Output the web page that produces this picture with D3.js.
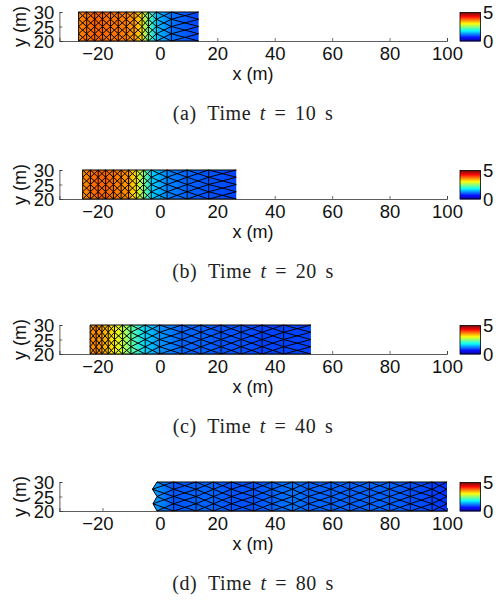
<!DOCTYPE html>
<html>
<head>
<meta charset="utf-8">
<script src="https://cdn.jsdelivr.net/npm/d3@7"></script>
<style>
  html, body { margin: 0; padding: 0; background: #fff; }
  svg { display: block; }
  .tick text, .lab { font-family: "Liberation Sans", sans-serif; fill: #111; }
  .cap { font-family: "Liberation Serif", serif; font-size: 20px; fill: #222; letter-spacing: 0.6px; word-spacing: 3px; }
</style>
</head>
<body>
<svg id="chart" width="496" height="601"></svg>
<script>
// column edges of the mesh (m) and water depth at each edge (m)
var edgesA = [-28.3, -25.5, -22.7, -20, -17.2, -14.5, -11.7, -9, -6.2, -4, -1.2, 4, 13.5];
var depthA = [3.7, 3.8, 3.85, 3.85, 3.8, 3.75, 3.7, 3.6, 3.25, 2.4, 1.6, 1.2, 1.0];
var edgesB = [-26.9, -24.2, -21.5, -18.9, -16.2, -13.5, -10.9, -8.2, -5.7, -3, 2.5, 9.5, 17, 26.6];
var depthB = [3.65, 3.8, 3.9, 3.9, 3.8, 3.7, 3.6, 3.2, 2.5, 1.7, 1.3, 1.1, 1.05, 1.0];
var edgesC = [-24.3, -22.2, -20.2, -18, -15.8, -13, -10.1, -5.1, -0.1, 7.7, 14.3, 21.3, 28.3, 35.6, 43.1, 52.6];
var depthC = [3.6, 3.7, 3.55, 3.4, 3.15, 2.85, 2.4, 1.7, 1.35, 1.15, 1.1, 1.05, 1.05, 1.0, 1.0, 0.95];
var edgesD = [-1, 4.8, 12.6, 18.7, 24.9, 32.6, 39, 46.2, 51.8, 59.6, 66.1, 73, 80, 87.2, 94.8, 100];
var depthD = [1.35, 1.05, 1.15, 1.15, 1.05, 1.05, 1.1, 1.2, 1.1, 1.15, 1.15, 1.15, 1.15, 1.05, 1.0, 0.9];
// jagged wave front of panel d, x at each mesh level (m)
var frontD = [-1, -2.4, -1, -2.6, -1];

var levels = [20, 22.5, 25, 27.5, 30];
var xTicks = [-20, 0, 20, 40, 60, 80, 100];
var yTicks = [20, 25, 30];
var barTicks = [0, 5];
var captions = ["(a)", "(b)", "(c)", "(d)"];
var times = ["10", "20", "40", "80"];

var panels = [
  { top: 12, edges: edgesA, depth: depthA },
  { top: 170, edges: edgesB, depth: depthB },
  { top: 325, edges: edgesC, depth: depthC },
  { top: 482, edges: edgesD, depth: depthD, front: frontD }
];

var svg = d3.select("#chart");
var defs = svg.append("defs");

var x = d3.scaleLinear().domain([-35, 100]).range([59.4, 447]);

// matlab jet, stepped to 64 levels like the original colormap
var jet = d3.scaleLinear()
  .domain([0, 0.125, 0.375, 0.625, 0.875, 1])
  .range(["#00008f", "#0000ff", "#00ffff", "#ffff00", "#ff0000", "#800000"]);
function depthColor(v) {
  return jet(Math.floor(Math.min(v / 5, 0.999) * 64) / 63);
}

function drawPanel(p, idx) {
  var h = 29;
  var y = d3.scaleLinear().domain([20, 30]).range([p.top + h, p.top]);
  var g = svg.append("g");

  var gradId = "grad" + idx;
  var grad = defs.append("linearGradient")
    .attr("id", gradId)
    .attr("gradientUnits", "userSpaceOnUse")
    .attr("x1", x(p.edges[0]))
    .attr("x2", x(p.edges[p.edges.length - 1]))
    .attr("y1", 0).attr("y2", 0);
  var ex = d3.scaleLinear()
    .domain([p.edges[0], p.edges[p.edges.length - 1]]).range([0, 1]);
  p.edges.forEach(function(e, i) {
    grad.append("stop").attr("offset", ex(e)).attr("stop-color", depthColor(p.depth[i]));
  });

  function edgeAt(i, k) {
    return (i == 0 && p.front) ? p.front[k] : p.edges[i];
  }

  var line = d3.line().x(function(d) { return x(d[0]); }).y(function(d) { return y(d[1]); });

  // outline of the wet area
  var outline = levels.map(function(l, k) { return [edgeAt(0, k), l]; });
  outline.push([p.edges[p.edges.length - 1], 30], [p.edges[p.edges.length - 1], 20]);
  g.append("path").attr("d", line(outline) + "Z").attr("fill", "url(#" + gradId + ")");

  // triangle edges: vertical lines, then two zigzags across each column
  var mesh = g.append("g").attr("fill", "none").attr("stroke", "#000")
    .attr("stroke-width", 1).attr("stroke-linejoin", "round");
  p.edges.forEach(function(e, i) {
    if (i < p.edges.length - 1) {
      mesh.append("path").attr("d", line(levels.map(function(l, k) { return [edgeAt(i, k), l]; })));
      mesh.append("path").attr("d", line(levels.map(function(l, k) {
        return [k % 2 ? edgeAt(i + 1, k) : edgeAt(i, k), l];
      })));
      mesh.append("path").attr("d", line(levels.map(function(l, k) {
        return [k % 2 ? edgeAt(i, k) : edgeAt(i + 1, k), l];
      })));
      mesh.append("path").attr("d", line([[edgeAt(i, 0), 20], [p.edges[i + 1], 20]]));
      mesh.append("path").attr("d", line([[edgeAt(i, 4), 30], [p.edges[i + 1], 30]]));
    }
  });

  // axes, ticks point inwards, no box
  var xAxis = d3.axisBottom(x).tickValues(xTicks).tickSize(-3).tickPadding(6)
    .tickFormat(function(d) { return d < 0 ? "\u2212" + Math.abs(d) : d; });
  var gx = svg.append("g").attr("transform", "translate(0," + (p.top + h) + ")").call(xAxis);
  var yAxis = d3.axisLeft(y).tickValues(yTicks).tickSize(-3).tickPadding(5);
  var gy = svg.append("g").attr("transform", "translate(" + x(-35) + ",0)").call(yAxis);
  [gx, gy].forEach(function(a) {
    a.selectAll(".domain").attr("stroke", "#333").attr("stroke-width", 0.8);
    a.selectAll(".tick line").attr("stroke", "#333").attr("stroke-width", 0.7);
    a.selectAll("text").attr("font-size", 18.5);
  });
  gx.selectAll("text").attr("dy", "0.72em")
    .attr("dx", function(d) { return d < 0 ? -5 : 0; }); // the minus sign pushes this label left in the original
  gy.selectAll("text").attr("dy", "0.36em");

  svg.append("text").attr("class", "lab").attr("font-size", 18)
    .attr("x", 253).attr("y", p.top + h + 39).attr("text-anchor", "middle")
    .text("x (m)");
  svg.append("text").attr("class", "lab").attr("font-size", 18)
    .attr("transform", "translate(26," + (p.top + h / 2) + ") rotate(-90)")
    .attr("text-anchor", "middle").text("y (m)");

  // colour bar
  var bar = d3.scaleLinear().domain([0, 5]).range([p.top + h, p.top + 0.5]);
  var barG = svg.append("g");
  d3.range(64).forEach(function(i) {
    barG.append("rect")
      .attr("x", 460).attr("width", 20.5)
      .attr("y", bar((i + 1) * 5 / 64)).attr("height", bar(i * 5 / 64) - bar((i + 1) * 5 / 64) + 0.4)
      .attr("fill", jet(i / 63));
  });
  barG.append("rect").attr("x", 460).attr("y", bar(5)).attr("width", 20.5).attr("height", bar(0) - bar(5))
    .attr("fill", "none").attr("stroke", "#000").attr("stroke-width", 0.8);
  barTicks.forEach(function(t) {
    svg.append("text").attr("class", "lab").attr("font-size", 18.5)
      .attr("x", 483).attr("y", bar(t)).attr("dy", "0.36em").text(t);
  });

  // caption
  var cap = svg.append("text").attr("class", "cap")
    .attr("x", 253).attr("y", p.top + h + 79).attr("text-anchor", "middle");
  cap.append("tspan").text(captions[idx] + "\u2002Time ");
  cap.append("tspan").attr("font-style", "italic").text("t");
  cap.append("tspan").text(" = " + times[idx] + " s");
}

panels.forEach(drawPanel);
</script>
</body>
</html>
